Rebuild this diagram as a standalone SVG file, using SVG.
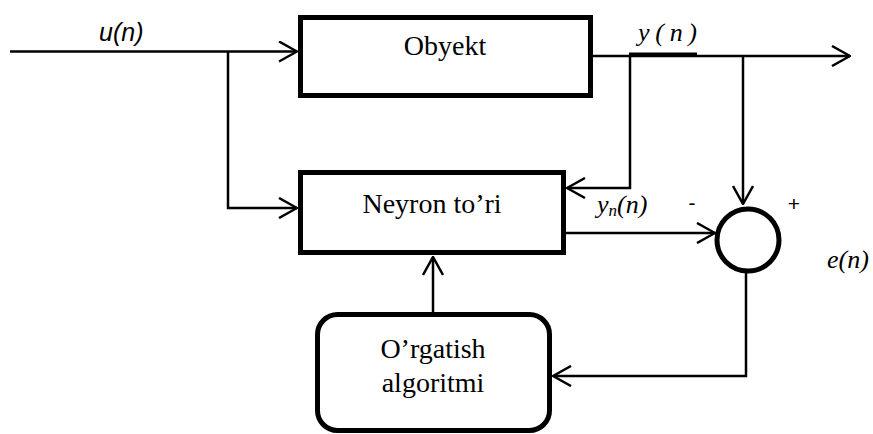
<svg xmlns="http://www.w3.org/2000/svg" width="873" height="434" viewBox="0 0 873 434">
  <style>
    .box { fill: #fff; stroke: #000; stroke-width: 5; }
    .wire { fill: none; stroke: #000; stroke-width: 2.5; }
    .lbl { font-family: "Liberation Serif", "Times New Roman", serif; font-size: 28px; fill: #000; text-anchor: middle; }
    .sig { font-family: "Liberation Serif", "Times New Roman", serif; font-style: italic; font-size: 26px; fill: #000; }
    .sans { font-family: "Liberation Sans", Arial, sans-serif; fill: #000; }
  </style>
  <defs>
    <marker id="arrow" viewBox="0 0 20 22" refX="19" refY="11" markerWidth="20" markerHeight="22" markerUnits="userSpaceOnUse" orient="auto">
      <path d="M1,1 L19,11 L1,21" fill="none" stroke="#000" stroke-width="2.5"/>
    </marker>
  </defs>

  <rect width="873" height="434" fill="#fff"/>

  <!-- connectors -->
  <g id="connectors">
    <!-- input u(n) to plant -->
    <path class="wire" d="M10,51.5 H297" marker-end="url(#arrow)"/>
    <!-- input branch to network -->
    <path class="wire" d="M228,51.5 V208 H297" marker-end="url(#arrow)"/>
    <!-- plant output y(n) -->
    <path class="wire" d="M593,56 H850" marker-end="url(#arrow)"/>
    <line x1="629" y1="54" x2="697" y2="54" stroke="#000" stroke-width="3"/>
    <!-- y(n) fed back into network -->
    <path class="wire" d="M630,56 V188 H567" marker-end="url(#arrow)"/>
    <!-- y(n) to summing junction -->
    <path class="wire" d="M743,56 V204" marker-end="url(#arrow)"/>
    <!-- network output to summing junction -->
    <path class="wire" d="M566,233 H715" marker-end="url(#arrow)"/>
    <!-- error to learning algorithm -->
    <path class="wire" d="M746,273 V376 H553" marker-end="url(#arrow)"/>
    <!-- learning algorithm adjusts network -->
    <path class="wire" d="M433,312 V257" marker-end="url(#arrow)"/>
  </g>

  <!-- plant -->
  <g id="obyekt">
    <rect class="box" x="300.5" y="17.5" width="290" height="78"/>
    <text class="lbl" x="445" y="55">Obyekt</text>
  </g>

  <!-- neural network -->
  <g id="neyron">
    <rect class="box" x="300.5" y="172.5" width="263" height="80"/>
    <text class="lbl" x="432" y="213">Neyron to’ri</text>
  </g>

  <!-- learning algorithm -->
  <g id="orgatish">
    <rect class="box" x="317.5" y="314.5" width="232" height="116" rx="20" ry="20"/>
    <text class="lbl" x="433" y="358">O’rgatish</text>
    <text class="lbl" x="433" y="392">algoritmi</text>
  </g>

  <!-- summing junction -->
  <g id="sum">
    <circle cx="748" cy="240" r="31" fill="#fff" stroke="#000" stroke-width="5"/>
    <text class="sans" x="692" y="210" font-size="21" text-anchor="middle">-</text>
    <text class="sans" x="794" y="211" font-size="21" text-anchor="middle">+</text>
  </g>

  <!-- signal labels -->
  <g id="labels">
    <text class="sans" x="99" y="41" font-size="25" font-style="italic">u(n)</text>
    <text class="sig" x="638" y="41" textLength="59" lengthAdjust="spacing">y(n)</text>
    <text class="sig" x="597" y="213">y<tspan font-size="17" dy="3">n</tspan><tspan dy="-3">(n)</tspan></text>
    <text class="sig" x="827" y="268">e(n)</text>
  </g>
</svg>
